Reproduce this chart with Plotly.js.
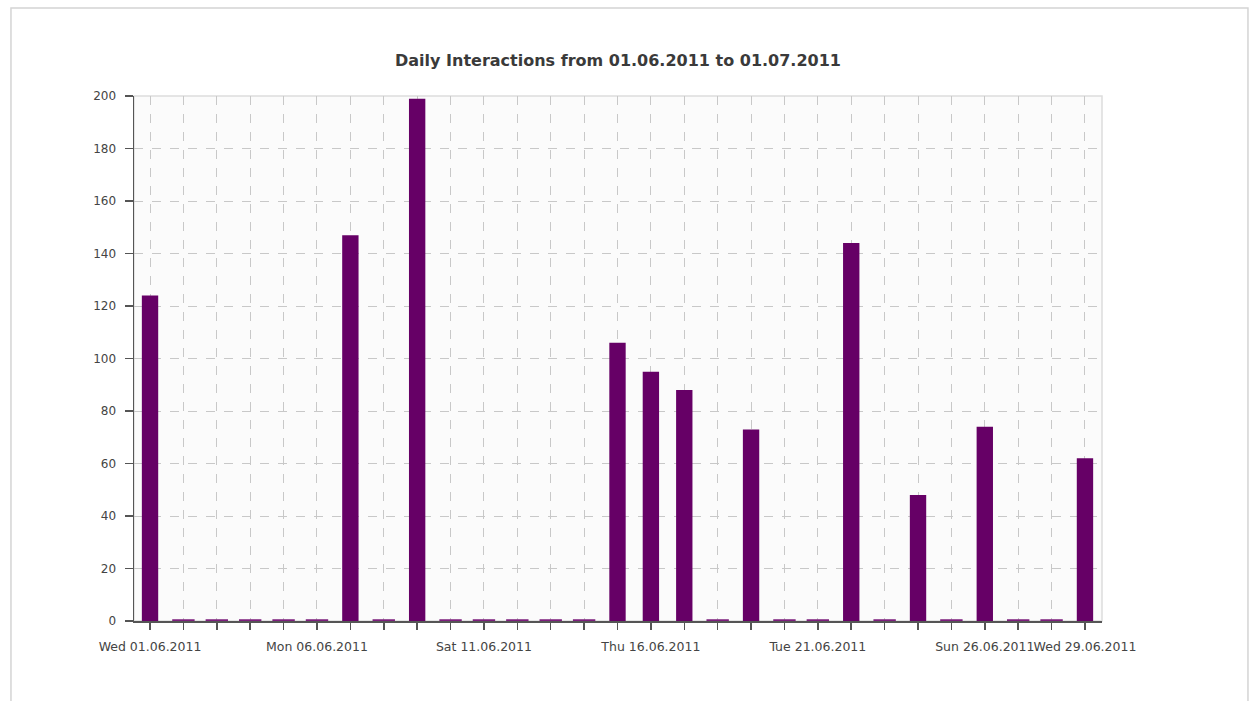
<!DOCTYPE html>
<html>
<head>
<meta charset="utf-8">
<script src="https://cdn.plot.ly/plotly-3.0.1.min.js"></script>
<style>html,body{margin:0;padding:0;background:#fff;}</style>
</head>
<body>
<div id="chart" style="width:1255px;height:701px;"></div>
<script>
// Data: interactions per day, 1–29 June 2011
const days = [1,2,3,4,5,6,7,8,9,10,11,12,13,14,15,16,17,18,19,20,21,22,23,24,25,26,27,28,29];
const interactions = [124,0,0,0,0,0,147,0,199,0,0,0,0,0,106,95,88,0,73,0,0,144,0,48,0,74,0,0,62];
const labelDays = [1,6,11,16,21,26,29];
const labelTexts = ['Wed 01.06.2011','Mon 06.06.2011','Sat 11.06.2011','Thu 16.06.2011','Tue 21.06.2011','Sun 26.06.2011','Wed 29.06.2011'];
const chartTitle = 'Daily Interactions from 01.06.2011 to 01.07.2011';

const tickText = days.map(d => { const i = labelDays.indexOf(d); return i >= 0 ? labelTexts[i] : ''; });
const zeroDays = days.filter((d, i) => interactions[i] === 0);
const zeroVals = zeroDays.map(() => 0);

const font = "'DejaVu Sans', Verdana, sans-serif";

const traces = [
  {
    type: 'bar', x: days, y: interactions, width: 0.49,
    marker: {color: '#660066', line: {width: 0}},
    hoverinfo: 'skip'
  },
  {
    type: 'scatter', mode: 'markers', x: zeroDays, y: zeroVals,
    marker: {symbol: 'line-ew', size: 16, line: {width: 3.5, color: '#7d1f7d'}},
    hoverinfo: 'skip', cliponaxis: false
  }
];

const layout = {
  width: 1255, height: 701,
  margin: {l: 134, r: 153, t: 96, b: 80},
  paper_bgcolor: '#ffffff',
  plot_bgcolor: '#fbfbfb',
  showlegend: false,
  title: {
    text: chartTitle,
    font: {family: font, size: 16, color: '#3a3a3a', weight: 'bold'},
    x: 0.5, xref: 'paper', xanchor: 'center',
    y: 1 - 60/701, yref: 'container', yanchor: 'middle'
  },
  xaxis: {
    range: [0.52, 29.51],
    tickmode: 'array', tickvals: days, ticktext: tickText, tickangle: 0,
    ticks: 'outside', ticklen: 7, tickwidth: 1.5, tickcolor: '#555',
    ticklabelstandoff: 6,
    showgrid: true, gridcolor: '#c8c8c8', griddash: 'dash', gridwidth: 1,
    showline: true, linecolor: '#555', linewidth: 1.5,
    zeroline: false,
    tickfont: {family: font, size: 12.5, color: '#444'}
  },
  yaxis: {
    range: [0, 200], dtick: 20, tick0: 0,
    ticks: 'outside', ticklen: 8, tickwidth: 1.5, tickcolor: '#555',
    ticklabelstandoff: 6,
    showgrid: true, gridcolor: '#c8c8c8', griddash: 'dash', gridwidth: 1,
    showline: true, linecolor: '#555', linewidth: 1.5,
    zeroline: false,
    tickfont: {family: font, size: 12, color: '#444'}
  },
  shapes: [
    {type: 'rect', xref: 'paper', yref: 'paper', x0: 0, x1: 1, y0: 0, y1: 1,
     line: {color: '#dddddd', width: 1.5}, layer: 'below'},
    {type: 'rect', xref: 'paper', yref: 'paper', x0: -0.1271, x1: 1.1508, y0: -0.25, y1: 1.1676,
     line: {color: '#d4d4d4', width: 1.5}, layer: 'below'}
  ]
};

Plotly.newPlot('chart', traces, layout, {staticPlot: true, displayModeBar: false});
</script>
</body>
</html>
